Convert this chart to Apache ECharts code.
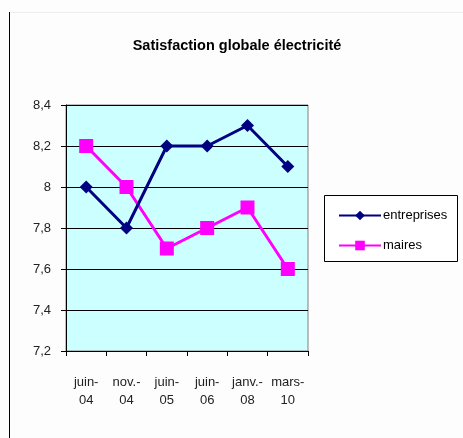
<!DOCTYPE html>
<html><head><meta charset="utf-8">
<script src="https://cdn.jsdelivr.net/npm/echarts@6/dist/echarts.min.js"></script>
<style>html,body{margin:0;padding:0;background:#fdfdfd}#c{width:463px;height:438px}</style>
</head><body><div id="c"></div>
<script>
const categories = ['juin-\n04', 'nov.-\n04', 'juin-\n05', 'juin-\n06', 'janv.-\n08', 'mars-\n10'];
const entreprises = [8.0, 7.8, 8.2, 8.2, 8.3, 8.1];
const maires = [8.2, 8.0, 7.7, 7.8, 7.9, 7.6];
const chart = echarts.init(document.getElementById('c'));
const font = '"Liberation Sans", Arial, sans-serif';
chart.setOption({
  animation: false,
  backgroundColor: '#fdfdfd',
  title: {
    text: 'Satisfaction globale électricité',
    left: 232, top: 33, textAlign: 'center',
    textStyle: {fontFamily: font, fontSize: 14.5, fontWeight: 'bold', color: '#000'}
  },
  graphic: [
    {type: 'line', shape: {x1: 9.5, y1: 12, x2: 9.5, y2: 438}, style: {stroke: '#000', lineWidth: 1}},
    {type: 'line', shape: {x1: 10, y1: 12.5, x2: 463, y2: 12.5}, style: {stroke: '#eeeeee', lineWidth: 1}},
    {type: 'rect', shape: {x: 324.5, y: 195.5, width: 133, height: 66}, style: {fill: '#ffffff', stroke: '#000', lineWidth: 1}, z: 0}
  ],
  legend: {
    orient: 'vertical', left: 333, top: 204, itemGap: 17,
    itemWidth: 42, itemHeight: 12,
    textStyle: {fontFamily: font, fontSize: 13, color: '#000', padding: [0, 0, 0, -3]},
    data: ['entreprises', 'maires'], z: 5
  },
  grid: {left: 66, top: 105, width: 242, height: 246, show: true, backgroundColor: '#ccffff', borderColor: '#808080', borderWidth: 1},
  xAxis: {
    type: 'category', data: categories, boundaryGap: true,
    axisLine: {lineStyle: {color: '#000', width: 1}},
    axisTick: {show: true, length: 5, lineStyle: {color: '#000'}},
    axisLabel: {fontFamily: font, fontSize: 13, color: '#222', margin: 22, lineHeight: 18, interval: 0}
  },
  yAxis: {
    type: 'value', min: 7.2, max: 8.4, interval: 0.2,
    axisLine: {show: true, lineStyle: {color: '#000'}},
    axisTick: {show: true, length: 5, lineStyle: {color: '#000'}},
    splitLine: {show: true, lineStyle: {color: '#000', width: 1}},
    axisLabel: {fontFamily: font, fontSize: 13, color: '#222', margin: 15,
      formatter: v => String(Math.round(v * 10) / 10).replace('.', ',')}
  },
  series: [
    {name: 'entreprises', type: 'line', data: entreprises, color: '#000080',
     lineStyle: {width: 3, color: '#000080'}, symbol: 'diamond', symbolSize: 13,
     itemStyle: {color: '#000080'}, z: 3},
    {name: 'maires', type: 'line', data: maires, color: '#ff00ff',
     lineStyle: {width: 3, color: '#ff00ff'}, symbol: 'rect', symbolSize: 14,
     itemStyle: {color: '#ff00ff'}, z: 2}
  ]
});
</script></body></html>
